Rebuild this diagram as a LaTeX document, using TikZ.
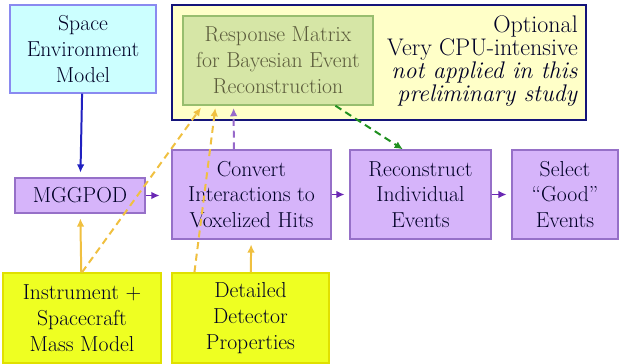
\documentclass[tikz,border=0pt]{standalone}
\usepackage{xcolor}
\usetikzlibrary{calc,arrows.meta}

\definecolor{envfill}{HTML}{CCFFFF}
\definecolor{envline}{HTML}{8A8AF0}
\definecolor{procfill}{HTML}{D6B4FA}
\definecolor{procline}{HTML}{9670C8}
\definecolor{inpfill}{HTML}{EEFF22}
\definecolor{inpline}{HTML}{E0E000}
\definecolor{optfill}{HTML}{FFFFC8}
\definecolor{optline}{HTML}{14147A}
\definecolor{respfill}{HTML}{D6E6A6}
\definecolor{respline}{HTML}{98BE6E}
\definecolor{resptext}{HTML}{5C5C3C}
\definecolor{goldarrow}{HTML}{F0C040}
\definecolor{purplearrow}{HTML}{6A28B4}
\definecolor{bluearrow}{HTML}{2020C0}
\definecolor{greenarrow}{HTML}{209020}

\begin{document}
\begin{tikzpicture}[x=0.03cm,y=-0.03cm,>={Latex[length=7pt,width=6.5pt]},
  box/.style={draw,line width=1.2pt,align=center,inner sep=0pt,
    font=\fontsize{18.5}{22}\selectfont,text=black!85!blue},
  envbox/.style={box,fill=envfill,draw=envline},
  procbox/.style={box,fill=procfill,draw=procline},
  inpbox/.style={box,fill=inpfill,draw=inpline},
  link/.style={->,line width=1.7pt},
  dlink/.style={->,line width=1.7pt,dash pattern=on 6pt off 4pt}]
\useasboundingbox (0,0) rectangle (619,363);

% optional part on top
\node[draw=optline,fill=optfill,line width=2.4pt,minimum width=414*0.03cm,minimum height=115*0.03cm] (optional) at (379,62.5) {};
\node[box,fill=respfill,draw=respline,text=resptext,minimum width=190*0.03cm,minimum height=89*0.03cm] (response) at (278,60.5)
  {Response Matrix\\for Bayesian Event\\Reconstruction};
\node[anchor=east,align=right,inner sep=0pt,font=\fontsize{20.5}{19.5}\selectfont,text=black!85!blue] (optnote) at (578,61)
  {Optional\\Very CPU-intensive\\\textit{not applied in this}\\\textit{preliminary study}};

\node[envbox,minimum width=146*0.03cm,minimum height=88*0.03cm] (space) at (83,49) {Space\\Environment\\Model};

% main chain
\node[procbox,minimum width=130*0.03cm,minimum height=35*0.03cm] (mggpod) at (80,195.5) {MGGPOD};
\node[procbox,minimum width=159*0.03cm,minimum height=89*0.03cm] (convert) at (251.5,194.5) {Convert\\Interactions to\\Voxelized Hits};
\node[procbox,minimum width=141*0.03cm,minimum height=89*0.03cm] (reconstruct) at (420.5,194.5) {Reconstruct\\Individual\\Events};
\node[procbox,minimum width=106*0.03cm,minimum height=89*0.03cm] (select) at (565,194.5) {Select\\``Good''\\Events};

% inputs
\node[inpbox,minimum width=158*0.03cm,minimum height=90*0.03cm] (instrument) at (82,318) {Instrument +\\Spacecraft\\Mass Model};
\node[inpbox,minimum width=157*0.03cm,minimum height=90*0.03cm] (detector) at (250.5,318) {Detailed\\Detector\\Properties};

\draw[link,bluearrow,shorten >=4pt] (space) -- (mggpod);
\draw[link,purplearrow,shorten >=10pt] (mggpod.east) -- (mggpod.east -| convert.west);
\draw[link,purplearrow,shorten >=4pt] (convert.east) -- (reconstruct.west);
\draw[link,purplearrow,shorten >=4pt] (reconstruct.east) -- (select.west);
\draw[link,goldarrow,shorten >=4pt] (instrument) -- (mggpod);
\draw[link,goldarrow,shorten >=4pt] (detector) -- (convert);

\draw[dlink,goldarrow,shorten >=2pt] (instrument.north) -- ($(response.south west)!0.105!(response.south east)$);
\draw[dlink,goldarrow,shorten >=2pt] ($(detector.north west)!0.146!(detector.north east)$) -- ($(response.south west)!0.174!(response.south east)$);
\draw[dlink,purplearrow!70!white,shorten >=2pt] ($(convert.north west)!0.39!(convert.north east)$) -- ($(response.south west)!0.268!(response.south east)$);
\draw[dlink,greenarrow] ($(response.south west)!0.8!(response.south east)$) -- ($(reconstruct.north west)!0.376!(reconstruct.north east)$);
\end{tikzpicture}
\end{document}
